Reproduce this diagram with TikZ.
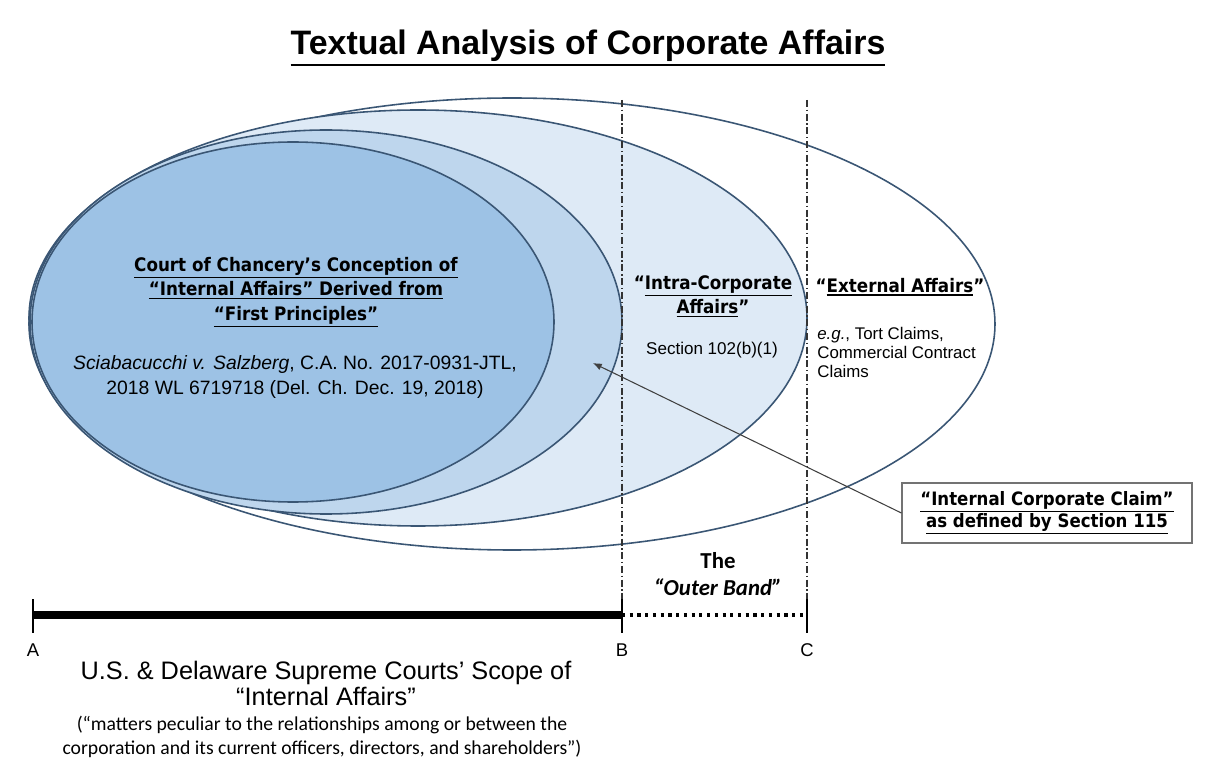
\documentclass[tikz,border=0pt]{standalone}
\usepackage{fontspec}
\setmainfont{Liberation Sans}
\newfontfamily\tahfont[FakeStretch=0.9]{DejaVu Sans}
\newfontfamily\calfont{Carlito}
\usepackage{tikz}
\usetikzlibrary{positioning}
\usetikzlibrary{arrows.meta}
\usetikzlibrary{calc}

% underline with a chosen rule thickness
\newcommand{\ulx}[2][0.6pt]{\vtop{\hbox{#2}\kern0.9pt\hrule height#1}}

\definecolor{inblue}{RGB}{157,194,229}
\definecolor{midblue}{RGB}{190,214,237}
\definecolor{liteblue}{RGB}{222,234,246}
\definecolor{rimblue}{RGB}{58,86,116}

\tikzset{
  headtxt/.style={align=center, inner sep=0pt, font=\tahfont\bfseries\fontsize{10.6}{14}\selectfont},
  casetxt/.style={align=center, inner sep=0pt, font=\fontsize{11}{14.2}\selectfont},
  smalltxt/.style={align=left, inner sep=0pt, font=\fontsize{9.6}{10.8}\selectfont},
  bandline/.style={black!80, line width=0.6pt, dash pattern=on 4pt off 1.5pt on 0.8pt off 1.5pt},
  tickline/.style={line width=1.6pt},
}

\begin{document}
\begin{tikzpicture}[x=0.02cm, y=-0.02cm]
  \useasboundingbox (0,0) rectangle (1211,763);

  \def\xa{33};
  \def\xb{622};
  \def\xc{807};
  \def\ya{615};

  %title
  \node[inner sep=0pt, anchor=base] (title) at (588,55) {\bfseries\fontsize{19.3}{24}\selectfont\ulx[1.6pt]{Textual Analysis of Corporate Affairs}};

  %ellipses, outer one first
  \foreach \cx/\cy/\rx/\ry/\col in {512/324/483/226/white, 418/318/389/208/liteblue, 326/322/296/192/midblue, 293/322/261/180/inblue}{
    \draw[rimblue, fill=\col, line width=0.9pt] (\cx,\cy) ellipse [x radius=\rx*0.02cm, y radius=\ry*0.02cm];
  }

  %band limits
  \coordinate (A) at (\xa,\ya);
  \coordinate (B) at (\xb,\ya);
  \coordinate (C) at (\xc,\ya);
  \coordinate (Btop) at (\xb,100);
  \coordinate (Ctop) at (\xc,100);
  \draw[bandline] (Btop) -- (B);
  \draw[bandline] (Ctop) -- (C);

  %texts in the ellipses
  \node[headtxt] (chancery) at (296,292) {\ulx{Court of Chancery’s Conception of}\\\ulx{“Internal Affairs” Derived from}\\\ulx{“First Principles”}};
  \node[casetxt] (case) at (295,377) {\textit{Sciabacucchi v. Salzberg}, C.A. No. 2017-0931-JTL,\\2018 WL 6719718 (Del. Ch. Dec. 19, 2018)};
  \node[headtxt] (intra) at (713,296) {“\ulx{Intra-Corporate}\\\ulx{Affairs}”};
  \node[casetxt, font=\fontsize{9.7}{11}\selectfont] (sec) at (712,350) {Section 102(b)(1)};
  \node[headtxt] (external) at (900,287) {“\ulx{External Affairs}”};
  \node[smalltxt, anchor=north west] (eg) at (817,327) {\textit{e.g.}, Tort Claims,\\Commercial Contract\\Claims};

  %claim box and pointer
  \node[headtxt, draw=black!55, line width=0.7pt, minimum width=5.8cm, minimum height=1.2cm, font=\tahfont\bfseries\fontsize{10.5}{12.6}\selectfont] (claim) at (1047,513) {\ulx{“Internal Corporate Claim”}\\\ulx{as defined by Section 115}};
  \coordinate (tip) at (593,363);
  \draw[black!75, line width=0.6pt, -{Latex[length=5pt,width=4pt]}] (claim.west) -- (tip);

  %outer band
  \node[align=center, inner sep=0pt, font=\calfont\bfseries\fontsize{13}{15.3}\selectfont] (band) at (718,574) {The\\\textit{“Outer Band”}};

  %axis
  \draw[line width=4pt] (A) -- (B);
  \draw[line width=2pt, dash pattern=on 1.8pt off 2.6pt] (B) -- (C);
  \foreach \p in {A,B,C}{
    \draw[tickline] ($(\p)+(0,-16)$) -- ($(\p)+(0,18)$);
    \node[inner sep=0pt, font=\fontsize{10.5}{12}\selectfont] (lab\p) at ($(\p)+(0,35)$) {\p};
  }

  %bottom texts
  \node[align=center, inner sep=0pt, font=\fontsize{14.4}{14.8}\selectfont] (scope) at (326,683) {U.S. \& Delaware Supreme Courts’ Scope of\\“Internal Affairs”};
  \node[align=center, inner sep=0pt, font=\calfont\fontsize{11.2}{13.5}\selectfont] (matters) at (322,737) {(“matters peculiar to the relationships among or between the\\corporation and its current officers, directors, and shareholders”)};
\end{tikzpicture}
\end{document}
